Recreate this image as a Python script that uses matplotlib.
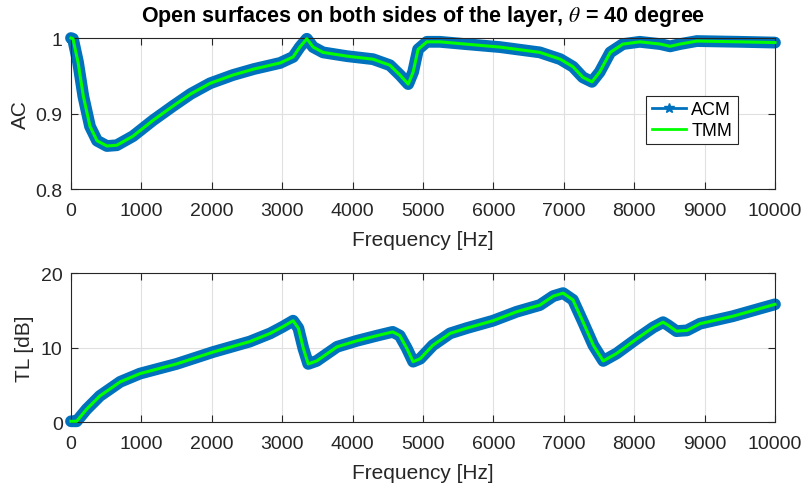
import matplotlib
matplotlib.use("Agg")
import matplotlib.pyplot as plt
from matplotlib.lines import Line2D
from matplotlib.ticker import FormatStrFormatter

plt.rcParams['font.family'] = ['Liberation Sans', 'DejaVu Sans']
plt.rcParams['mathtext.fontset'] = 'stix'

# absorption coefficient (top)
f_ac = [0, 28, 100, 175, 270, 370, 510, 650, 880, 1165, 1450, 1700, 1975,
        2300, 2600, 2970, 3155, 3250, 3350, 3440, 3580, 3920, 4290, 4530,
        4673, 4790, 4860, 4930, 5055, 5240, 5600, 6094, 6660, 6950, 7130,
        7270, 7400, 7510, 7660, 7840, 8080, 8370, 8510, 8650, 8890, 9500,
        10000]
ac = [1.0, 0.999, 0.968, 0.923, 0.883, 0.864, 0.857, 0.858, 0.870, 0.891,
      0.910, 0.926, 0.940, 0.951, 0.959, 0.967, 0.975, 0.988, 0.999, 0.988,
      0.981, 0.976, 0.972, 0.964, 0.951, 0.939, 0.955, 0.985, 0.995, 0.995,
      0.992, 0.988, 0.981, 0.972, 0.962, 0.948, 0.942, 0.955, 0.981, 0.992,
      0.995, 0.992, 0.989, 0.992, 0.996, 0.995, 0.994]

# transmission loss (bottom)
f_tl = [0, 80, 220, 410, 700, 980, 1500, 2020, 2540, 2830, 3010, 3155,
        3230, 3300, 3370, 3490, 3780, 4060, 4350, 4570, 4670, 4770, 4860,
        4960, 5140, 5385, 5620, 5995, 6330, 6660, 6850, 6990, 7130, 7270,
        7420, 7560, 7750, 8040, 8270, 8410, 8480, 8600, 8750, 8935, 9400,
        10000]
tl = [0.1, 0.1, 1.7, 3.5, 5.4, 6.5, 7.8, 9.4, 10.8, 11.9, 12.8, 13.6, 12.6,
      9.9, 7.8, 8.2, 10.1, 10.9, 11.6, 12.1, 11.6, 9.9, 8.1, 8.5, 10.3, 11.9,
      12.6, 13.6, 14.8, 15.7, 16.9, 17.3, 16.4, 13.5, 10.3, 8.2, 9.2, 11.2,
      12.7, 13.4, 13.0, 12.2, 12.3, 13.2, 14.2, 15.8]

blue = (0, 0.447, 0.741)
green = (0, 1, 0)
dark = '#262626'

fig = plt.figure(figsize=(8.04, 4.85), dpi=100)
ax1 = fig.add_axes([0.0883, 0.6082, 0.8756, 0.3113])
ax2 = fig.add_axes([0.0883, 0.1278, 0.8756, 0.3072])


def style(ax):
    ax.set_xlim(0, 10000)
    ax.set_xticks(range(0, 10001, 1000))
    ax.grid(True, color='#e0e0e0', linewidth=0.8)
    ax.set_axisbelow(True)
    ax.tick_params(direction='in', top=True, right=True, labelsize=14,
                   colors=dark, length=5, width=0.8)
    ax.tick_params(axis='x', pad=9)
    ax.tick_params(axis='y', pad=6)
    for s in ax.spines.values():
        s.set_color(dark)
        s.set_linewidth(0.8)
    ax.set_xlabel('Frequency [Hz]', fontsize=15, color=dark, labelpad=8)


for ax, f, y in [(ax1, f_ac, ac), (ax2, f_tl, tl)]:
    ax.plot(f, y, color=blue, linewidth=8.5, solid_joinstyle='round',
            solid_capstyle='round', zorder=2, clip_on=False)
    ax.plot(f, y, color=green, linewidth=2.2, solid_joinstyle='round',
            zorder=3, clip_on=False)
    style(ax)

ax1.set_ylim(0.8, 1.0)
ax1.set_yticks([0.8, 0.9, 1.0])
ax1.yaxis.set_major_formatter(FormatStrFormatter('%g'))
ax1.set_ylabel('AC', fontsize=15, color=dark, labelpad=4)
ax1.set_title(r'Open surfaces on both sides of the layer, $\theta$ = 40 degree',
              fontsize=15.5, fontweight='bold', pad=12)

ax2.set_ylim(0, 20)
ax2.set_yticks([0, 10, 20])
ax2.set_ylabel('TL [dB]', fontsize=15, color=dark, labelpad=5)

handles = [Line2D([], [], color=blue, linewidth=2, marker='*', markersize=7),
           Line2D([], [], color=green, linewidth=2)]
leg = ax1.legend(handles, ['ACM', 'TMM'], loc='upper left',
                 bbox_to_anchor=(0.817, 0.616), fontsize=13, fancybox=False,
                 framealpha=1, edgecolor=dark, handlelength=1.9,
                 borderpad=0.3, labelspacing=0.2, handletextpad=0.3,
                 borderaxespad=0)
leg.get_frame().set_linewidth(0.8)

fig.savefig('out.png', dpi=100)
